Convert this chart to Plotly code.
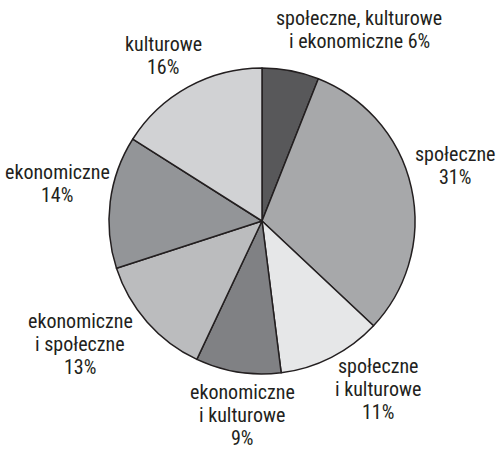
import plotly.graph_objects as go

# categories (clockwise from 12 o'clock) and their shares in %
labels = ["społeczne, kulturowe i ekonomiczne", "społeczne", "społeczne i kulturowe",
          "ekonomiczne i kulturowe", "ekonomiczne i społeczne", "ekonomiczne", "kulturowe"]
values = [6, 31, 11, 9, 13, 14, 16]
colors = ["#58585a", "#a7a8aa", "#e6e7e8", "#808184", "#bbbcbe", "#939598", "#d1d2d4"]

# label text as shown next to each slice
label_lines = [
    ["społeczne, kulturowe", "i ekonomiczne 6%"],
    ["społeczne", "31%"],
    ["społeczne", "i kulturowe", "11%"],
    ["ekonomiczne", "i kulturowe", "9%"],
    ["ekonomiczne", "i społeczne", "13%"],
    ["ekonomiczne", "14%"],
    ["kulturowe", "16%"],
]
# label anchor: x centre and first baseline, px
label_pos = [(359, 26), (455, 162), (378, 374), (242, 400), (80, 329), (57, 180), (163, 52)]

W, H = 496, 451
cx, cy, r = 262, 221, 153
font = "Roboto Condensed, Liberation Sans Narrow, DejaVu Sans Condensed, sans-serif"
fs = 20
lh = 23

fig = go.Figure(go.Pie(
    labels=labels, values=values, sort=False, direction="clockwise",
    marker=dict(colors=colors, line=dict(color="#231f20", width=1.5)),
    textinfo="none", hoverinfo="none",
    domain=dict(x=[(cx - r) / W, (cx + r) / W], y=[(H - cy - r) / H, (H - cy + r) / H]),
))

for lines, (x, y0) in zip(label_lines, label_pos):
    for i, t in enumerate(lines):
        yb = y0 + i * lh
        # bottom of the text box sits ~a descender below the baseline
        ybot = max(0, 1 - (yb + 0.24 * fs) / H)
        fig.add_annotation(x=x / W, y=ybot, xref="paper", yref="paper",
                           text=t, showarrow=False, xanchor="center", yanchor="bottom",
                           borderpad=0,
                           font=dict(family=font, size=fs, color="#231f20"))

fig.update_layout(width=W, height=H, margin=dict(l=0, r=0, t=0, b=0),
                  showlegend=False, paper_bgcolor="white", plot_bgcolor="white")
# drop the default 8px page margin so the figure fills the window
fig.write_html("out.html", config={"displayModeBar": False},
               post_script="document.body.style.margin='0';document.body.style.overflow='hidden';")
